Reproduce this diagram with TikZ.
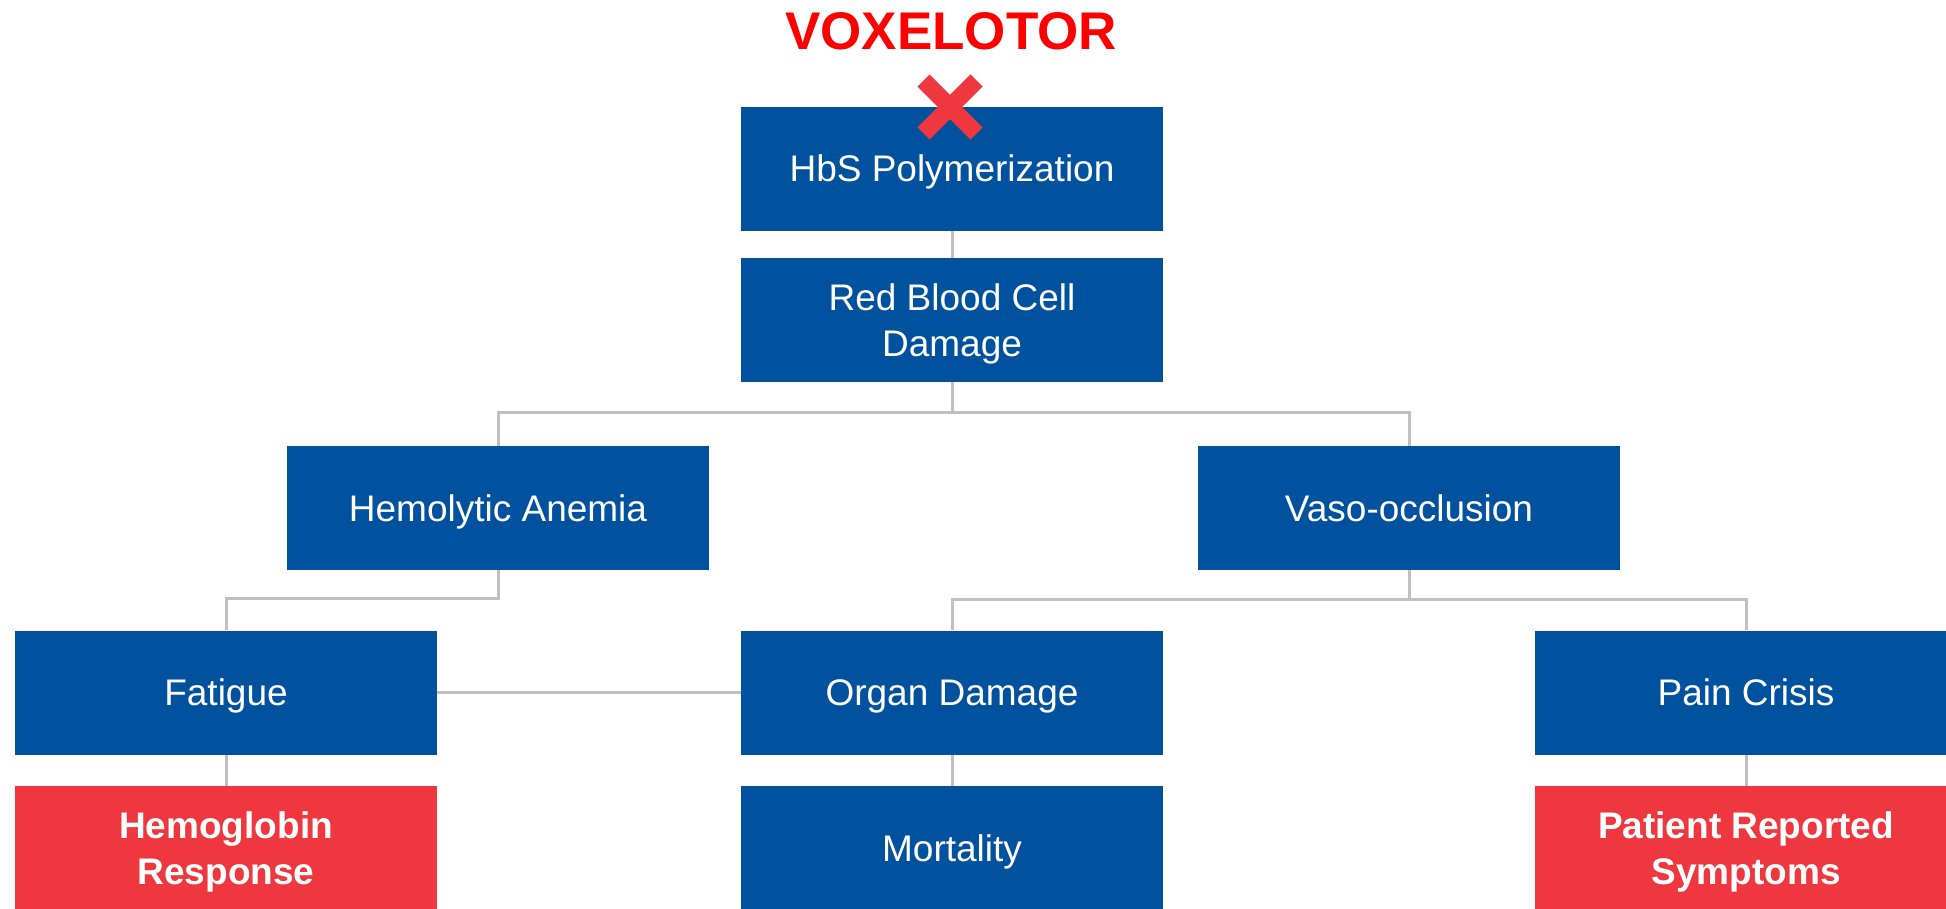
\documentclass[tikz,border=0pt]{standalone}
\usepackage{fontspec}
\setmainfont{Liberation Sans}
\usetikzlibrary{calc}
\definecolor{boxblue}{RGB}{0,81,158}
\definecolor{boxred}{RGB}{239,55,64}
\definecolor{linegray}{RGB}{192,192,192}
\definecolor{titlered}{RGB}{255,0,0}
\tikzset{
  bluebox/.style={fill=boxblue, text=white, minimum width=422pt, minimum height=124pt, inner sep=0pt, text depth=0pt, align=center, font=\fontsize{37}{46}\selectfont},
  redbox/.style={fill=boxred, text=white, minimum width=422pt, minimum height=124pt, inner sep=0pt, text depth=0pt, align=center, font=\fontsize{37}{46}\selectfont\bfseries},
  conn/.style={draw=linegray, line width=3pt},
  xbar/.style={draw=boxred, line width=17pt, line cap=butt}
}
\begin{document}
\begin{tikzpicture}[x=1pt,y=-1pt]
\useasboundingbox (0,0) rectangle (1946,908);
\clip (0,0) rectangle (1946,908);
\node[bluebox] (hbs) at (952,168.5) {HbS Polymerization};
\node[bluebox] (rbc) at (952,320) {Red Blood Cell\\Damage};
\node[bluebox] (ha) at (498,508) {Hemolytic Anemia};
\node[bluebox] (vo) at (1409,508) {Vaso-occlusion};
\node[bluebox] (fat) at (226,692.5) {Fatigue};
\node[bluebox] (od) at (952,692.5) {Organ Damage};
\node[bluebox] (pc) at (1746,692.5) {Pain Crisis};
\node[redbox] (hr) at (226,848) {Hemoglobin\\Response};
\node[bluebox] (mort) at (952,848) {Mortality};
\node[redbox] (prs) at (1746,848) {Patient Reported\\Symptoms};
\node[text=titlered, font=\fontsize{53}{60}\selectfont\bfseries, inner sep=0pt] (title) at (951,31) {VOXELOTOR};
\draw[conn] (hbs.south) -- (rbc.north);
\draw[conn] (rbc.south) -- ++(0,30) -| (ha.north);
\draw[conn] (rbc.south) -- ++(0,30) -| (vo.north);
\draw[conn] (ha.south) -- ++(0,28) -| (fat.north);
\draw[conn] (vo.south) -- ++(0,29) -| (od.north);
\draw[conn] (vo.south) -- ++(0,29) -| (pc.north);
\draw[conn] (fat.east) -- (od.west);
\draw[conn] (fat.south) -- (hr.north);
\draw[conn] (od.south) -- (mort.north);
\draw[conn] (pc.south) -- (prs.north);
\coordinate (xc) at (950,107);
\draw[xbar] ($(xc)+(-26.5,-26.5)$) -- ($(xc)+(26.5,26.5)$);
\draw[xbar] ($(xc)+(-26.5,26.5)$) -- ($(xc)+(26.5,-26.5)$);
\end{tikzpicture}
\end{document}
